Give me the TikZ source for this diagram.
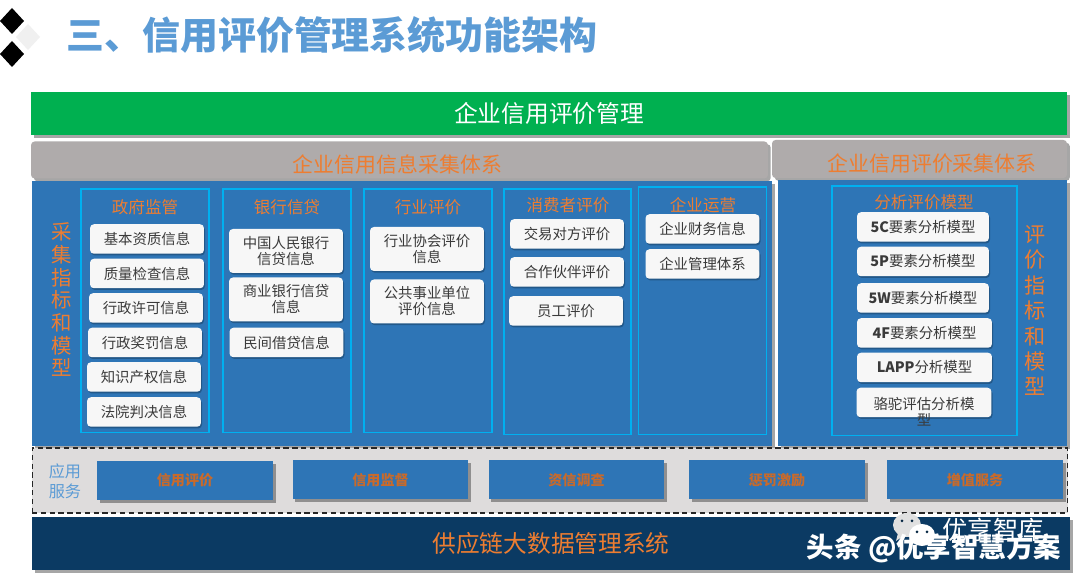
\documentclass[tikz,border=0pt]{standalone}
\usepackage{fontspec}
\setmainfont{Noto Sans CJK SC}
\usetikzlibrary{shadows}
\definecolor{Panel}{HTML}{2E75B6}
\definecolor{Frame}{HTML}{00B0F0}
\definecolor{Accent}{HTML}{ED7D31}
\definecolor{Slate}{HTML}{AFABAB}
\definecolor{Strip}{HTML}{DEDCDC}
\definecolor{Navy}{HTML}{0B3A63}
\definecolor{Leaf}{HTML}{00B050}
\definecolor{Sky}{HTML}{5B9BD5}
\definecolor{Ink}{HTML}{3A3A3A}
\tikzset{
  softshadow/.style={drop shadow={shadow xshift=1.6pt,shadow yshift=-1.6pt,fill=black,opacity=0.35}},
  glowshadow/.style={drop shadow={shadow xshift=0.6pt,shadow yshift=-1pt,fill=black!70!Panel,opacity=0.35}},
  groupframe/.style={draw=Frame,line width=0.6pt,inner sep=0pt},
  grouptitle/.style={text=Accent,inner sep=0pt,font=\fontsize{9.4}{11}\selectfont},
  cardbox/.style={fill=white!97!black,rounded corners=2.2pt,glowshadow,text=Ink,inner sep=0pt,
    minimum width=2.28cm,minimum height=0.59cm,align=center,font=\fontsize{8.2}{9.1}\selectfont},
  cardtall/.style={cardbox,minimum height=0.88cm},
  modelbox/.style={cardbox,minimum width=2.64cm},
  modelwide/.style={cardbox,minimum width=2.7cm},
  sidetext/.style={text=Accent,inner sep=0pt,align=center},
  servicebox/.style={fill=Panel,softshadow,text=Accent!85!black,inner sep=0pt,minimum width=3.52cm,minimum height=0.78cm,
    font=\fontsize{8}{9}\bfseries\selectfont},
  bandtext/.style={inner sep=0pt,font=\fontsize{13.5}{15}\selectfont},
  markwhite/.style={text=white,inner sep=0pt,font=\fontsize{15.6}{17}\bfseries\selectfont}
}
\begin{document}
\begin{tikzpicture}[x=0.02cm,y=-0.02cm]
\useasboundingbox (0,0) rectangle (1080,580);
\fill[white] (0,0) rectangle (1080,580);
% corner marks and heading
\fill[black] (12,8) -- (24,21) -- (12,34) -- (0,21) -- cycle;
\fill[black] (12,41) -- (24,54) -- (12,67) -- (0,54) -- cycle;
\fill[black!6] (28,24) -- (40,37) -- (28,50) -- (16,37) -- cycle;
\node[text=Sky,inner sep=0pt,font=\fontsize{21.6}{24}\bfseries\selectfont] (heading) at (332,35) {三、信用评价管理系统功能架构};
% top bands
\node[fill=Leaf,softshadow,text=white,minimum width=20.72cm,minimum height=0.86cm,bandtext] (topband) at (549,113.5) {企业信用评价管理};
\node[fill=Slate,softshadow,rounded corners=2pt,minimum width=14.74cm,minimum height=0.74cm,inner sep=0pt] (infoband) at (399.5,160) {};
\node[fill=Slate,softshadow,rounded corners=2pt,minimum width=5.9cm,minimum height=0.76cm,inner sep=0pt] (rateband) at (919.5,159) {};
\node[text=Accent,inner sep=0pt,font=\fontsize{11.9}{14}\selectfont] (infotitle) at (397.5,165) {企业信用信息采集体系};
\node[text=Accent,inner sep=0pt,font=\fontsize{11.9}{14}\selectfont] (ratetitle) at (932,164) {企业信用评价采集体系};
% blue panels
\node[fill=Panel,softshadow,minimum width=14.8cm,minimum height=5.3cm,inner sep=0pt] (leftpanel) at (402,313.5) {};
\node[fill=Panel,softshadow,minimum width=5.78cm,minimum height=5.32cm,inner sep=0pt] (rightpanel) at (922.5,313) {};
\node[sidetext,font=\fontsize{11.6}{12.9}\selectfont] (leftside) at (62,300) {采\\集\\指\\标\\和\\模\\型};
\node[sidetext,font=\fontsize{12}{14.5}\selectfont] (rightside) at (1035,310.5) {评\\价\\指\\标\\和\\模\\型};
% group frames
\node[groupframe,minimum width=2.56cm,minimum height=4.88cm] (govframe) at (145,311) {};
\node[groupframe,minimum width=2.56cm,minimum height=4.88cm] (bankframe) at (287,311) {};
\node[groupframe,minimum width=2.56cm,minimum height=4.88cm] (tradeframe) at (428,311) {};
\node[groupframe,minimum width=2.54cm,minimum height=4.92cm] (buyerframe) at (567.5,312) {};
\node[groupframe,minimum width=2.56cm,minimum height=4.96cm] (opsframe) at (702.5,311) {};
\node[groupframe,minimum width=3.7cm,minimum height=5cm] (modelframe) at (924.5,311) {};
\node[grouptitle] (govtitle) at (145,207) {政府监管};
\node[grouptitle] (banktitle) at (287,207) {银行信贷};
\node[grouptitle] (tradetitle) at (428,207) {行业评价};
\node[grouptitle] (buyertitle) at (568,205) {消费者评价};
\node[grouptitle] (opstitle) at (703,205) {企业运营};
\node[grouptitle] (modeltitle) at (924,202) {分析评价模型};
% first group
\node[cardbox] (gov1) at (147,239) {基本资质信息};
\node[cardbox] (gov2) at (147,273.5) {质量检查信息};
\node[cardbox] (gov3) at (146,308) {行政许可信息};
\node[cardbox] (gov4) at (145,342.5) {行政奖罚信息};
\node[cardbox] (gov5) at (144,377) {知识产权信息};
\node[cardbox] (gov6) at (144,412) {法院判决信息};
% second group
\node[cardtall] (bank1) at (286,251) {中国人民银行\\信贷信息};
\node[cardtall] (bank2) at (286,299.5) {商业银行信贷\\信息};
\node[cardbox] (bank3) at (286.5,342.5) {民间借贷信息};
% third group
\node[cardtall] (trade1) at (427,249) {行业协会评价\\信息};
\node[cardtall] (trade2) at (427,301.5) {公共事业单位\\评价信息};
% fourth group
\node[cardbox] (buyer1) at (567,234) {交易对方评价};
\node[cardbox] (buyer2) at (567,272) {合作伙伴评价};
\node[cardbox] (buyer3) at (566,311) {员工评价};
% fifth group
\node[cardbox] (ops1) at (702.5,229) {企业财务信息};
\node[cardbox] (ops2) at (702.5,264) {企业管理体系};
% model group
\node[modelbox] (model1) at (923,227) {\textbf{5C}要素分析模型};
\node[modelbox] (model2) at (923,261.5) {\textbf{5P}要素分析模型};
\node[modelbox] (model3) at (923,298) {\textbf{5W}要素分析模型};
\node[modelwide] (model4) at (924.5,333) {\textbf{4F}要素分析模型};
\node[modelwide] (model5) at (924.5,367.5) {\textbf{LAPP}分析模型};
\node[modelwide] (model6) at (924,402.5) {};
\node[text=Ink,inner sep=0pt,align=center,font=\fontsize{8.2}{9.1}\selectfont] (model6text) at (924,411.5) {骆驼评估分析模\\型};
% service strip
\node[fill=Strip,draw=black!85,densely dashed,line width=0.6pt,minimum width=20.72cm,minimum height=1.3cm,inner sep=0pt] (strip) at (550,480.5) {};
\node[text=Sky,inner sep=0pt,align=center,font=\fontsize{9.2}{11.3}\selectfont] (striplabel) at (65,481) {应用\\服务};
\node[servicebox] (svc1) at (185,480.5) {信用评价};
\node[servicebox] (svc2) at (380.5,480) {信用监督};
\node[servicebox] (svc3) at (576.5,480) {资信调查};
\node[servicebox] (svc4) at (777,480) {惩罚激励};
\node[servicebox] (svc5) at (975,480) {增值服务};
% bottom band
\node[fill=Navy,softshadow,text=Accent,minimum width=20.76cm,minimum height=1.06cm,bandtext] (baseband) at (551,543.5) {供应链大数据管理系统};
% overlay marks
\fill[white!88!black] (907,525) ellipse (14 and 12);
\fill[white!88!black] (898,533) -- (896,541) -- (905,535) -- cycle;
\fill[Navy!70!black] (902,521) circle (1.5);
\fill[Navy!70!black] (912,521) circle (1.5);
\fill[white] (922,535) ellipse (13 and 11);
\fill[Navy!70!black] (917,532) circle (1.5);
\fill[Navy!70!black] (927,532) circle (1.5);
\node[text=white,inner sep=0pt,font=\fontsize{14.4}{16}\selectfont] (brandname) at (993,530) {优享智库};
\node[markwhite] (headline) at (934,548) {头条 @优享智慧方案};
\end{tikzpicture}
\end{document}
